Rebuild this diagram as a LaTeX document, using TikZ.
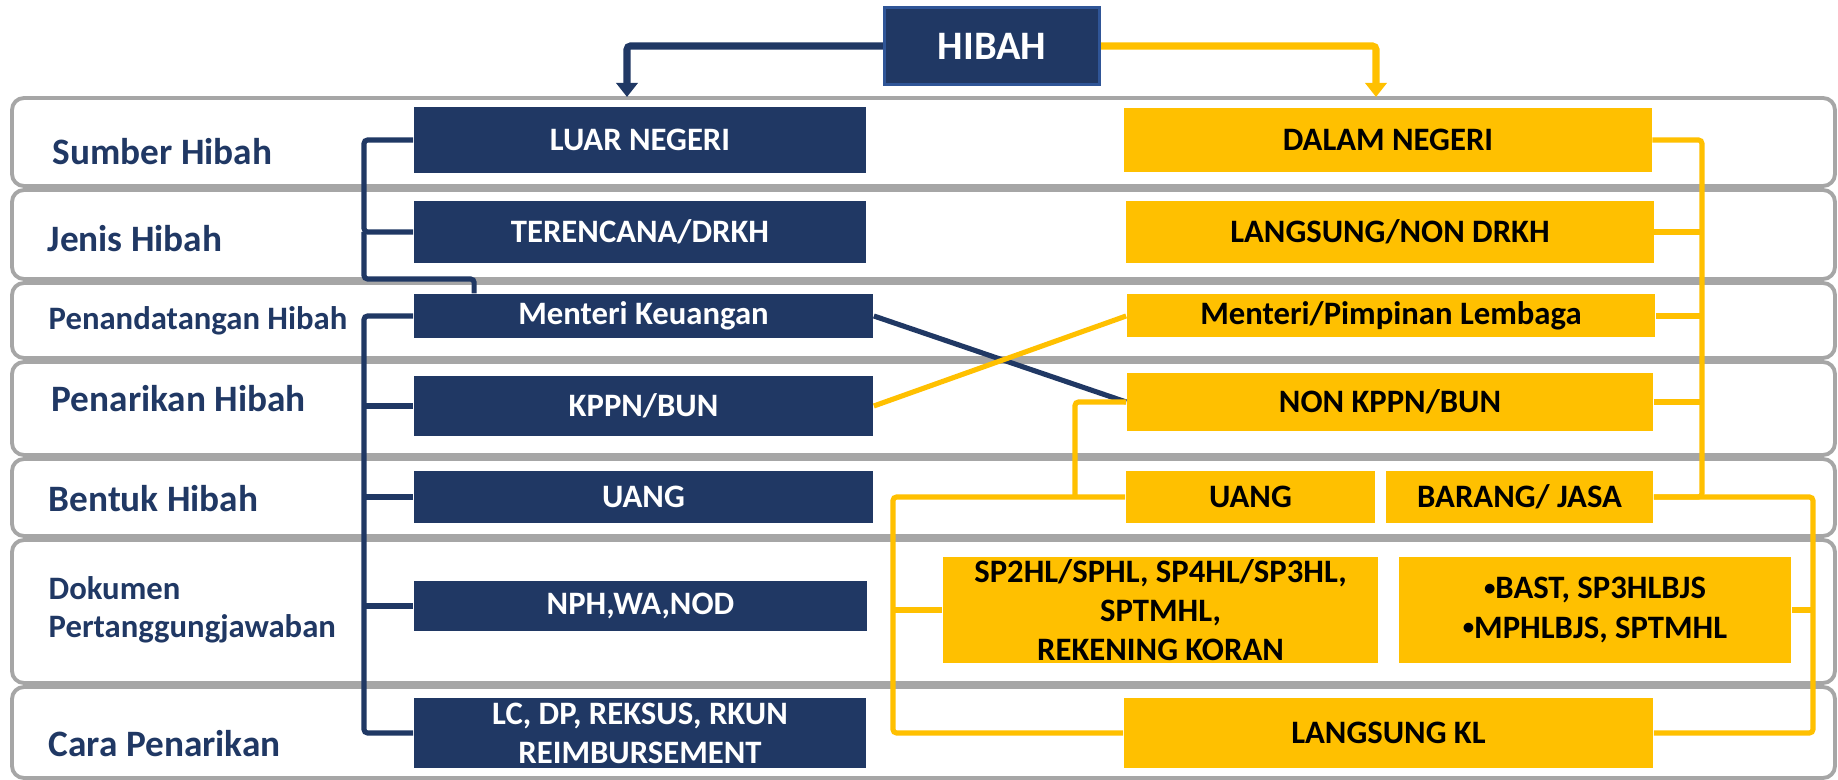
\documentclass[tikz,border=0pt]{standalone}
\usepackage{fontspec}
\setmainfont{Carlito}
\usetikzlibrary{calc}
\usetikzlibrary{arrows.meta}
\definecolor{navy}{HTML}{203864}
\definecolor{navyedge}{HTML}{2F5597}
\definecolor{gold}{HTML}{FFC000}
\definecolor{framegray}{HTML}{A6A6A6}
\newcommand{\smallbullet}{{\fontsize{6.5}{6}\selectfont\raisebox{0.35ex}{\textbullet}}}
\tikzstyle{rowframe}=[draw=framegray,line width=1.1pt,fill=white,rounded corners=3.4pt]
\tikzstyle{rowlabel}=[anchor=base west,inner sep=0pt,text=navy,font=\bfseries\fontsize{10.6}{12.7}\selectfont]
\tikzstyle{smalllabel}=[rowlabel,font=\bfseries\fontsize{9.3}{10.8}\selectfont]
\tikzstyle{navybox}=[rectangle,fill=navy,text=white,inner sep=0pt,align=center,font=\bfseries\fontsize{9.3}{11.1}\selectfont]
\tikzstyle{goldbox}=[rectangle,fill=gold,text=black,inner sep=0pt,align=center,font=\bfseries\fontsize{9.3}{11.1}\selectfont]
\tikzstyle{navyline}=[draw=navy,line width=1.45pt,rounded corners=1pt]
\tikzstyle{goldline}=[draw=gold,line width=1.45pt,rounded corners=1pt]
\tikzstyle{bigtip}=[line width=2pt,-{Triangle[width=6pt,length=4pt]}]

\begin{document}
\begin{tikzpicture}[x=0.01cm,y=-0.01cm]
\useasboundingbox (0,0) rectangle (1838,780);

% rows
\draw[rowframe] (12,98) rectangle (1835,186);
\draw[rowframe] (12,190) rectangle (1835,279);
\draw[rowframe] (12,283) rectangle (1835,358);
\draw[rowframe] (12,362) rectangle (1835,455);
\draw[rowframe] (12,459) rectangle (1835,536);
\draw[rowframe] (12,540) rectangle (1835,683);
\draw[rowframe] (12,687) rectangle (1835,778);

% row labels
\node[rowlabel] (sumber) at (52,165) {Sumber Hibah};
\node[rowlabel] (jenis) at (47,252) {Jenis Hibah};
\node[smalllabel] (tanda) at (48,330) {Penandatangan Hibah};
\node[rowlabel] (tarik) at (51,412) {Penarikan Hibah};
\node[rowlabel] (bentuk) at (48,512) {Bentuk Hibah};
\node[smalllabel,anchor=west,align=left] (dokumen) at (48,610) {Dokumen\\Pertanggungjawaban};
\node[rowlabel] (cara) at (48,757) {Cara Penarikan};

% top
\node[navybox,draw=navyedge,line width=0.85pt,minimum width=2.15cm,minimum height=0.77cm,font=\bfseries\fontsize{11.5}{13}\selectfont] (hibah) at (992,46) {HIBAH};

% luar negeri side
\node[navybox,minimum width=4.52cm,minimum height=0.65cm] (luar) at (640,140) {LUAR NEGERI};
\node[navybox,minimum width=4.52cm,minimum height=0.62cm] (terencana) at (640,232) {TERENCANA/DRKH};
\node[navybox,minimum width=4.59cm,minimum height=0.44cm] (menkeu) at (643.5,316) {Menteri Keuangan};
\node[navybox,minimum width=4.59cm,minimum height=0.59cm] (kppn) at (643.5,406) {KPPN/BUN};
\node[navybox,minimum width=4.59cm,minimum height=0.51cm] (uangL) at (643.5,497) {UANG};
\node[navybox,minimum width=4.53cm,minimum height=0.50cm] (nph) at (640.5,606) {NPH,WA,NOD};
\node[navybox,minimum width=4.52cm,minimum height=0.69cm] (lc) at (640,733) {LC, DP, REKSUS, RKUN\\REIMBURSEMENT};

% dalam negeri side
\node[goldbox,minimum width=5.27cm,minimum height=0.64cm] (dalam) at (1388,140) {DALAM NEGERI};
\node[goldbox,minimum width=5.27cm,minimum height=0.61cm] (langsung) at (1390,232) {LANGSUNG/NON DRKH};
\node[goldbox,minimum width=5.28cm,minimum height=0.43cm] (menpim) at (1391,316) {Menteri/Pimpinan Lembaga};
\node[goldbox,minimum width=5.26cm,minimum height=0.58cm] (nonkppn) at (1390,402) {NON KPPN/BUN};
\node[goldbox,minimum width=2.49cm,minimum height=0.51cm] (uangR) at (1250.5,497) {UANG};
\node[goldbox,minimum width=2.67cm,minimum height=0.51cm] (barang) at (1519.5,497) {BARANG/ JASA};
\node[goldbox,minimum width=4.35cm,minimum height=1.05cm] (sp2hl) at (1160.5,610) {SP2HL/SPHL, SP4HL/SP3HL,\\SPTMHL,\\REKENING KORAN};
\node[goldbox,minimum width=3.92cm,minimum height=1.05cm] (bast) at (1595,610) {\smallbullet BAST, SP3HLBJS\\\smallbullet MPHLBJS, SPTMHL};
\node[goldbox,minimum width=5.29cm,minimum height=0.70cm] (langsungkl) at (1388.5,733) {LANGSUNG KL};

% rails and arrow ends
\coordinate (luartip) at (627,97);
\coordinate (dalamtip) at (1376,97);
\coordinate (navyrail) at (364,0);
\coordinate (goldrail) at (1702,0);
\coordinate (goldouter) at (1813,0);
\coordinate (goldinner) at (1075,0);
\coordinate (goldleft) at (893,0);

% edges and paths
\draw[navyline,bigtip] (hibah.west) -| (luartip);
\draw[goldline,bigtip] (hibah.east) -| (dalamtip);

\draw[navyline] (luar.west) -| (navyrail |- terencana.west) -- (terencana.west);
\draw[navyline] (navyrail |- terencana.west) -- ++(0,47) -| ($(menkeu.north west)+(61,0)$);

\draw[navyline] (menkeu.west) -| (navyrail |- lc.west) -- (lc.west);
\draw[navyline] (kppn.west) -- (kppn.west -| navyrail);
\draw[navyline] (uangL.west) -- (uangL.west -| navyrail);
\draw[navyline] (nph.west) -- (nph.west -| navyrail);

\draw[navyline] (menkeu.east) -- (nonkppn.west);
\draw[goldline] (kppn.east) -- (menpim.west);

\draw[goldline] (dalam.east) -| (goldrail |- barang.east) -- (barang.east);
\draw[goldline] (langsung.east) -- (langsung.east -| goldrail);
\draw[goldline] (menpim.east) -- (menpim.east -| goldrail);
\draw[goldline] (nonkppn.east) -- (nonkppn.east -| goldrail);
\draw[goldline] (barang.east) -- (barang.east -| goldouter) |- (langsungkl.east);
\draw[goldline] (bast.east) -- (bast.east -| goldouter);

\draw[goldline] (nonkppn.west) -| (goldinner |- uangR.west);
\draw[goldline] (uangR.west) -- (uangR.west -| goldleft) |- (langsungkl.west);
\draw[goldline] (sp2hl.west) -- (sp2hl.west -| goldleft);

\end{tikzpicture}
\end{document}
